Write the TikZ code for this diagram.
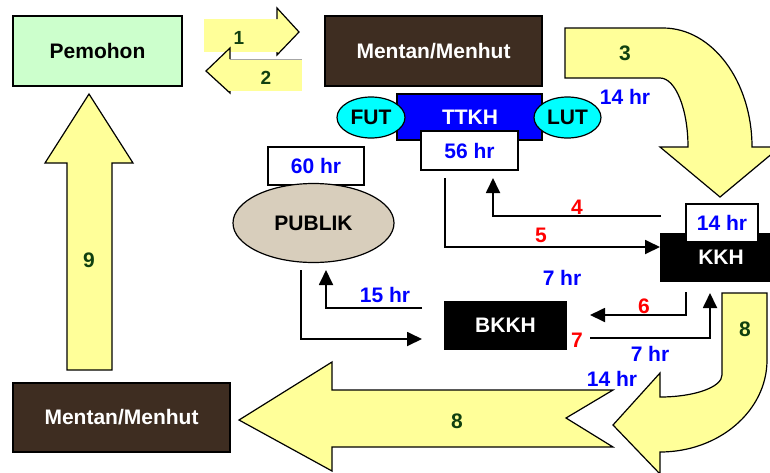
\documentclass[tikz,border=0pt]{standalone}
\usepackage{fontspec}
\setmainfont{Liberation Sans}
\usetikzlibrary{arrows.meta,shapes.geometric,calc}
\definecolor{yel}{RGB}{255,255,153}
\definecolor{wood}{RGB}{62,45,33}
\definecolor{woodlt}{RGB}{78,58,43}
\definecolor{pgreen}{RGB}{204,255,204}
\definecolor{dgreen}{RGB}{16,64,16}
\definecolor{tblue}{RGB}{0,0,255}
\definecolor{tred}{RGB}{255,0,0}
\definecolor{cyanf}{RGB}{0,255,255}
\definecolor{beige}{RGB}{216,206,188}
\tikzset{
  txt/.style={font=\fontsize{21}{25}\selectfont\bfseries},
  box/.style={draw=black,line width=1.2pt,inner sep=0pt,txt},
  woodbox/.style={box,fill=wood,text=white,minimum width=217pt,minimum height=70pt},
  blackbox/.style={box,fill=black,text=white},
  hrbox/.style={box,fill=white,text=tblue},
  ell/.style={draw=black,line width=1.2pt,ellipse,inner sep=0pt,txt},
  bigarrow/.style={fill=yel,draw=black,line width=1.2pt,line join=miter},
  conn/.style={draw=black,line width=1.8pt,-{Triangle[length=15pt,width=14pt]}},
  redl/.style={txt,text=tred},
  bluel/.style={txt,text=tblue},
  greenl/.style={txt,text=dgreen},
}
\begin{document}
\begin{tikzpicture}[x=1pt,y=-1pt]
\clip (0,0) rectangle (770,472);
\fill[white] (0,0) rectangle (770,472);

% big yellow arrows
\path[bigarrow] (565,28) -- (663,28) arc[start angle=-90,end angle=0,x radius=89,y radius=119]
  -- (780,147) -- (720,197) -- (660,147) -- (688,147)
  arc[start angle=0,end angle=-90,x radius=28,y radius=69] -- (565,78) -- cycle;
\path[bigarrow] (722,293) -- (767,293) -- (767,360)
  arc[start angle=0,end angle=90,x radius=107,y radius=92]
  -- (660,474) -- (613,425) -- (660,373) -- (660,397)
  arc[start angle=90,end angle=0,x radius=62,y radius=22] -- cycle;
\path[bigarrow] (613,390) -- (332,390) -- (332,362) -- (239,420) -- (332,471)
  -- (332,447) -- (613,447) -- (566,418) -- cycle;
\path[bigarrow] (67,370) -- (67,163) -- (45,163) -- (89,94) -- (133,163)
  -- (112,163) -- (112,370) -- cycle;

% arrows 1 and 2
\fill[yel] (204,19) rectangle (277,52);
\fill[yel] (277,8) -- (299,32) -- (277,55) -- cycle;
\draw[black,line width=1.2pt,line join=miter] (277,19) -- (277,8) -- (299,32) -- (277,55) -- (277,52);
\fill[yel] (230,59) rectangle (302,91);
\fill[yel] (230,48) -- (206,71) -- (230,93) -- cycle;
\draw[black!35,line width=0.6pt] (230,59) -- (302,59);
\draw[black,line width=1.2pt,line join=miter] (230,59) -- (230,48) -- (206,71) -- (230,93) -- (230,91);
\node[greenl,font=\fontsize{19}{23}\selectfont\bfseries] (l1) at (239,38) {1};
\node[greenl,font=\fontsize{19}{23}\selectfont\bfseries] (l2) at (266,78) {2};

% boxes
\node[box,fill=pgreen,minimum width=169pt,minimum height=70pt] (pem) at (97.5,51) {Pemohon};
\node[woodbox] (mm1) at (433.5,51) {Mentan/Menhut};
\node[woodbox,minimum height=69pt] (mm2) at (121.5,417.5) {Mentan/Menhut};
\node[box,fill=tblue,text=white,minimum width=145pt,minimum height=46pt] (ttkh) at (469.5,117) {};
\node[txt,text=white] (ttkhl) at (470,117) {TTKH};
\node[ell,fill=cyanf,minimum width=68pt,minimum height=41pt] (fut) at (371,117.5) {FUT};
\node[ell,fill=cyanf,minimum width=67pt,minimum height=41pt] (lut) at (567.5,117.5) {LUT};
\node[hrbox,minimum width=97pt,minimum height=39pt] (h56) at (469.5,150.5) {56 hr};
\node[hrbox,minimum width=96pt,minimum height=38pt] (h60) at (316,166) {60 hr};
\node[ell,fill=beige,minimum width=161pt,minimum height=79pt] (pub) at (313.5,223) {PUBLIK};
\node[blackbox,minimum width=120pt,minimum height=47pt] (kkh) at (721,257.5) {KKH};
\node[hrbox,minimum width=72pt,minimum height=38pt] (h14) at (722,223) {14 hr};
\node[blackbox,minimum width=121pt,minimum height=47pt] (bkkh) at (505.5,325.5) {BKKH};

% connector end points
\coordinate (s5) at (445,178);
\coordinate (t5) at (660,247);
\coordinate (s4) at (661,216);
\coordinate (t4) at (493,178);
\coordinate (s6) at (686,292);
\coordinate (t6) at (590,315);
\coordinate (s7) at (590,338);
\coordinate (t7) at (710,293);
\coordinate (s15) at (422,308);
\coordinate (t15) at (326,270);
\coordinate (sp) at (301,270);
\coordinate (tp) at (422,339);

\draw[conn] (s5) |- (t5);
\draw[conn] (s4) -| (t4);
\draw[conn] (s6) |- (t6);
\draw[conn] (s7) -| (t7);
\draw[conn] (s15) -| (t15);
\draw[conn] (sp) |- (tp);

% labels
\node[redl] (n4) at (577,207) {4};
\node[redl] (n5) at (541,235) {5};
\node[redl] (n6) at (644,306) {6};
\node[redl] (n7) at (577,340) {7};
\node[bluel] (b1) at (625,97) {14 hr};
\node[bluel] (b2) at (562,278) {7 hr};
\node[bluel] (b3) at (385,295) {15 hr};
\node[bluel] (b4) at (650,354) {7 hr};
\node[bluel] (b5) at (612,379) {14 hr};
\node[greenl] (g3) at (625,53) {3};
\node[greenl] (g8a) at (745,329) {8};
\node[greenl] (g8b) at (457,421) {8};
\node[greenl] (g9) at (89,260) {9};
\end{tikzpicture}
\end{document}
